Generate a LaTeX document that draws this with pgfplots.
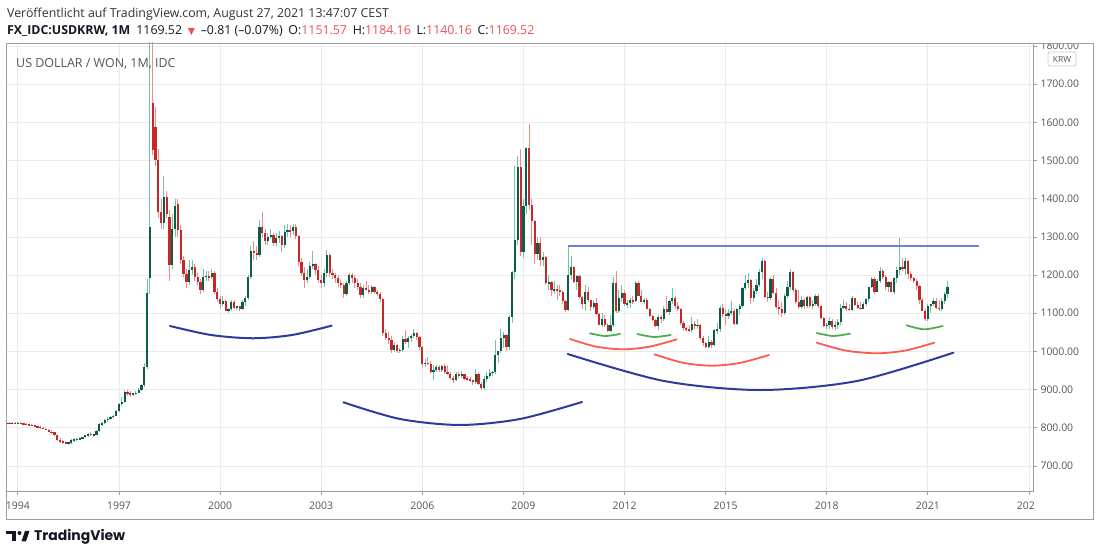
\documentclass[border=0pt]{standalone}
\usepackage{pgfplots}
\pgfplotsset{compat=1.18}
\usepackage{pgfplotstable}
\usepackage{fontspec}
\setmainfont{Open Sans}
\newfontfamily\dejavu{DejaVu Sans}
\newfontfamily\pop{Poppins}
\definecolor{upbody}{HTML}{0E5C47}
\definecolor{upwick}{HTML}{6CC7A9}
\definecolor{dnbody}{HTML}{C62828}
\definecolor{dnwick}{HTML}{F28B8B}
\definecolor{gridc}{HTML}{EBEBEB}
\definecolor{framec}{HTML}{9E9E9E}
\definecolor{labc}{HTML}{555555}
\definecolor{arcblue}{HTML}{2E3A9E}
\definecolor{arcred}{HTML}{FF5A4F}
\definecolor{arcgreen}{HTML}{4CAF50}
\definecolor{resline}{HTML}{7080D0}
\definecolor{valred}{HTML}{F05050}
\definecolor{tvdark}{HTML}{131722}

\pgfplotstableread{
Y M O H L C
1993 9 811 814 809 812
1993 10 812 814 810 811
1993 11 811 814 809 813
1993 12 813 815 810 811
1994 1 811 814 809 812
1994 2 812 814 809 811
1994 3 811 813 808 810
1994 4 810 812 807 809
1994 5 809 811 806 808
1994 6 808 810 804 806
1994 7 806 808 802 804
1994 8 804 806 800 802
1994 9 802 804 798 800
1994 10 800 802 796 798
1994 11 798 800 793 795
1994 12 795 797 788 790
1995 1 790 793 785 788
1995 2 788 790 778 780
1995 3 780 782 766 768
1995 4 768 772 760 764
1995 5 764 768 758 762
1995 6 762 766 757 760
1995 7 760 764 756 761
1995 8 761 770 758 768
1995 9 768 772 764 770
1995 10 770 774 766 771
1995 11 771 774 767 772
1995 12 772 777 770 775
1996 1 775 782 773 780
1996 2 780 786 777 784
1996 3 784 788 779 781
1996 4 781 785 776 782
1996 5 782 795 780 792
1996 6 792 812 790 810
1996 7 810 816 806 812
1996 8 812 822 810 820
1996 9 820 828 816 824
1996 10 824 832 820 829
1996 11 829 834 825 832
1996 12 832 846 830 844
1997 1 844 866 842 862
1997 2 862 880 858 868
1997 3 868 900 864 894
1997 4 894 898 884 890
1997 5 890 896 882 888
1997 6 888 892 884 890
1997 7 890 896 886 892
1997 8 892 904 890 900
1997 9 900 916 896 912
1997 10 912 970 908 960
1997 11 960 1190 955 1152
1997 12 1192 1962 1150 1326
1998 1 1651 1820 1515 1528
1998 2 1588 1640 1485 1501
1998 3 1501 1530 1350 1366
1998 4 1366 1400 1320 1336
1998 5 1336 1460 1320 1405
1998 6 1405 1420 1350 1360
1998 7 1352 1370 1185 1226
1998 8 1226 1360 1215 1320
1998 9 1320 1400 1300 1380
1998 10 1387 1400 1300 1318
1998 11 1318 1330 1230 1239
1998 12 1239 1250 1195 1204
1999 1 1204 1215 1165 1183
1999 2 1183 1240 1175 1213
1999 3 1213 1240 1200 1222
1999 4 1222 1230 1185 1196
1999 5 1196 1205 1175 1183
1999 6 1183 1190 1150 1160
1999 7 1160 1215 1155 1195
1999 8 1195 1210 1185 1198
1999 9 1198 1210 1185 1194
1999 10 1194 1215 1190 1206
1999 11 1206 1210 1150 1157
1999 12 1157 1165 1130 1138
2000 1 1138 1145 1115 1125
2000 2 1125 1145 1120 1131
2000 3 1131 1135 1105 1107
2000 4 1107 1115 1102 1110
2000 5 1110 1135 1105 1130
2000 6 1130 1135 1112 1115
2000 7 1115 1120 1108 1118
2000 8 1118 1120 1105 1112
2000 9 1112 1135 1108 1130
2000 10 1130 1145 1118 1139
2000 11 1139 1200 1135 1195
2000 12 1195 1275 1190 1264
2001 1 1264 1290 1240 1258
2001 2 1258 1275 1240 1252
2001 3 1252 1345 1248 1326
2001 4 1326 1365 1300 1310
2001 5 1310 1320 1280 1290
2001 6 1290 1310 1280 1300
2001 7 1300 1320 1295 1305
2001 8 1305 1310 1275 1283
2001 9 1283 1310 1275 1297
2001 10 1297 1315 1285 1302
2001 11 1302 1305 1260 1278
2001 12 1278 1330 1270 1314
2002 1 1314 1335 1300 1318
2002 2 1318 1330 1300 1315
2002 3 1315 1335 1305 1327
2002 4 1327 1335 1295 1302
2002 5 1302 1305 1225 1233
2002 6 1233 1245 1198 1205
2002 7 1205 1220 1165 1186
2002 8 1186 1215 1180 1195
2002 9 1195 1235 1190 1225
2002 10 1225 1262 1215 1229
2002 11 1229 1232 1200 1213
2002 12 1213 1225 1180 1186
2003 1 1186 1200 1165 1180
2003 2 1180 1215 1170 1205
2003 3 1205 1265 1195 1252
2003 4 1252 1258 1195 1205
2003 5 1205 1215 1190 1200
2003 6 1200 1205 1180 1193
2003 7 1193 1200 1170 1178
2003 8 1178 1190 1165 1174
2003 9 1174 1180 1140 1150
2003 10 1150 1185 1145 1180
2003 11 1180 1205 1175 1200
2003 12 1200 1205 1180 1192
2004 1 1192 1200 1165 1180
2004 2 1180 1190 1160 1170
2004 3 1170 1180 1140 1147
2004 4 1147 1175 1140 1166
2004 5 1166 1185 1160 1162
2004 6 1162 1175 1150 1155
2004 7 1155 1175 1150 1168
2004 8 1168 1172 1150 1155
2004 9 1155 1160 1145 1150
2004 10 1150 1155 1130 1138
2004 11 1138 1140 1040 1048
2004 12 1048 1060 1030 1036
2005 1 1036 1050 1020 1029
2005 2 1029 1040 995 1003
2005 3 1003 1025 998 1016
2005 4 1016 1020 995 1000
2005 5 1000 1010 995 1005
2005 6 1005 1040 998 1032
2005 7 1032 1055 1020 1026
2005 8 1026 1040 1010 1036
2005 9 1036 1045 1025 1040
2005 10 1040 1058 1035 1048
2005 11 1048 1050 1030 1037
2005 12 1037 1040 1005 1012
2006 1 1012 1015 960 967
2006 2 967 980 960 971
2006 3 971 985 965 968
2006 4 968 975 940 946
2006 5 946 965 925 952
2006 6 952 965 945 960
2006 7 960 965 945 951
2006 8 951 965 945 962
2006 9 962 968 942 946
2006 10 946 965 938 942
2006 11 942 945 925 930
2006 12 930 935 918 926
2007 1 926 945 922 941
2007 2 941 945 930 937
2007 3 937 950 930 941
2007 4 941 942 925 929
2007 5 929 935 922 927
2007 6 927 932 920 924
2007 7 924 926 912 920
2007 8 920 955 915 940
2007 9 940 945 912 916
2007 10 916 920 900 903
2007 11 903 935 900 927
2007 12 927 945 920 936
2008 1 936 955 930 944
2008 2 944 950 935 947
2008 3 947 1030 940 990
2008 4 990 1000 970 1000
2008 5 1000 1060 995 1034
2008 6 1034 1050 1010 1043
2008 7 1043 1045 1000 1012
2008 8 1012 1095 1005 1090
2008 9 1090 1210 1075 1207
2008 10 1207 1485 1190 1291
2008 11 1291 1513 1280 1482
2008 12 1482 1530 1250 1260
2009 1 1260 1400 1245 1380
2009 2 1380 1535 1360 1534
2009 3 1534 1597 1370 1383
2009 4 1383 1400 1280 1342
2009 5 1342 1345 1230 1256
2009 6 1256 1300 1240 1284
2009 7 1284 1300 1225 1240
2009 8 1240 1260 1225 1248
2009 9 1248 1250 1175 1178
2009 10 1178 1200 1160 1182
2009 11 1182 1185 1145 1160
2009 12 1160 1185 1150 1164
2010 1 1164 1175 1135 1160
2010 2 1160 1175 1145 1157
2010 3 1157 1160 1125 1131
2010 4 1131 1135 1104 1108
2010 5 1108 1277 1105 1200
2010 6 1200 1250 1190 1222
2010 7 1222 1225 1180 1183
2010 8 1183 1200 1160 1198
2010 9 1198 1200 1138 1142
2010 10 1142 1145 1110 1125
2010 11 1125 1175 1105 1157
2010 12 1157 1170 1130 1134
2011 1 1134 1135 1105 1117
2011 2 1117 1135 1110 1128
2011 3 1128 1140 1095 1097
2011 4 1097 1100 1068 1070
2011 5 1070 1100 1065 1085
2011 6 1085 1095 1065 1069
2011 7 1069 1075 1050 1054
2011 8 1054 1095 1050 1070
2011 9 1070 1195 1065 1178
2011 10 1178 1210 1100 1107
2011 11 1107 1160 1100 1140
2011 12 1140 1175 1130 1153
2012 1 1153 1160 1120 1124
2012 2 1124 1135 1115 1127
2012 3 1127 1140 1115 1134
2012 4 1134 1145 1125 1132
2012 5 1132 1185 1130 1179
2012 6 1179 1185 1145 1146
2012 7 1146 1160 1130 1130
2012 8 1130 1140 1125 1134
2012 9 1134 1140 1110 1112
2012 10 1112 1115 1090 1093
2012 11 1093 1095 1080 1082
2012 12 1082 1085 1065 1067
2013 1 1067 1095 1055 1089
2013 2 1089 1095 1075 1084
2013 3 1084 1120 1080 1111
2013 4 1111 1145 1100 1104
2013 5 1104 1135 1095 1131
2013 6 1131 1165 1125 1141
2013 7 1141 1145 1110 1119
2013 8 1119 1130 1105 1110
2013 9 1110 1115 1070 1075
2013 10 1075 1080 1054 1062
2013 11 1062 1065 1050 1058
2013 12 1058 1070 1050 1055
2014 1 1055 1090 1050 1073
2014 2 1073 1080 1060 1067
2014 3 1067 1085 1060 1070
2014 4 1070 1072 1030 1035
2014 5 1035 1040 1015 1023
2014 6 1023 1025 1010 1012
2014 7 1012 1040 1010 1026
2014 8 1026 1030 1010 1016
2014 9 1016 1060 1013 1055
2014 10 1055 1075 1045 1058
2014 11 1058 1120 1050 1115
2014 12 1115 1125 1090 1099
2015 1 1099 1110 1070 1093
2015 2 1093 1110 1085 1100
2015 3 1100 1132 1095 1107
2015 4 1107 1110 1068 1073
2015 5 1073 1115 1070 1110
2015 6 1110 1125 1095 1118
2015 7 1118 1170 1115 1166
2015 8 1166 1200 1160 1180
2015 9 1180 1205 1165 1186
2015 10 1186 1190 1125 1139
2015 11 1139 1165 1130 1159
2015 12 1159 1190 1150 1175
2016 1 1175 1215 1170 1209
2016 2 1209 1245 1190 1238
2016 3 1238 1240 1140 1143
2016 4 1143 1155 1130 1140
2016 5 1140 1195 1135 1191
2016 6 1191 1200 1150 1152
2016 7 1152 1165 1112 1117
2016 8 1117 1135 1095 1112
2016 9 1112 1130 1090 1100
2016 10 1100 1150 1095 1144
2016 11 1144 1185 1140 1170
2016 12 1170 1215 1160 1207
2017 1 1207 1212 1155 1160
2017 2 1160 1165 1125 1130
2017 3 1130 1160 1110 1116
2017 4 1116 1145 1110 1136
2017 5 1136 1140 1110 1120
2017 6 1120 1145 1115 1142
2017 7 1142 1145 1115 1120
2017 8 1120 1135 1110 1125
2017 9 1125 1150 1120 1146
2017 10 1146 1150 1115 1119
2017 11 1119 1120 1085 1088
2017 12 1088 1090 1065 1067
2018 1 1067 1075 1058 1070
2018 2 1070 1090 1060 1081
2018 3 1081 1085 1060 1064
2018 4 1064 1080 1055 1068
2018 5 1068 1085 1060 1077
2018 6 1077 1125 1070 1114
2018 7 1114 1135 1110 1120
2018 8 1120 1130 1105 1112
2018 9 1112 1125 1105 1109
2018 10 1109 1145 1105 1139
2018 11 1139 1140 1120 1121
2018 12 1121 1130 1110 1115
2019 1 1115 1130 1110 1112
2019 2 1112 1130 1110 1124
2019 3 1124 1140 1120 1137
2019 4 1137 1170 1130 1168
2019 5 1168 1196 1165 1191
2019 6 1191 1195 1150 1156
2019 7 1156 1190 1155 1184
2019 8 1184 1222 1180 1211
2019 9 1211 1215 1190 1196
2019 10 1196 1200 1160 1168
2019 11 1168 1185 1155 1181
2019 12 1181 1185 1155 1156
2020 1 1156 1195 1150 1193
2020 2 1193 1220 1180 1213
2020 3 1213 1296 1200 1220
2020 4 1220 1245 1210 1217
2020 5 1217 1245 1200 1238
2020 6 1238 1240 1190 1203
2020 7 1203 1210 1185 1192
2020 8 1192 1195 1180 1185
2020 9 1185 1190 1160 1171
2020 10 1171 1175 1125 1134
2020 11 1134 1140 1105 1107
2020 12 1107 1110 1080 1086
2021 1 1086 1125 1080 1119
2021 2 1119 1125 1100 1123
2021 3 1123 1140 1120 1133
2021 4 1133 1140 1110 1115
2021 5 1115 1135 1105 1112
2021 6 1112 1140 1105 1131
2021 7 1131 1155 1125 1151
2021 8 1151.57 1184.16 1140.16 1169.52
}\ohlc

\begin{document}
\begin{tikzpicture}[x=1bp,y=1bp]
\useasboundingbox (0,0) rectangle (1100,556);
\fill[white] (0,0) rectangle (1100,556);
\begin{axis}[
  at={(6bp,65bp)}, anchor=south west, scale only axis,
  width=1027bp, height=448bp,
  xmin=1993.647, xmax=2024.121, ymin=634.5, ymax=1807.9,
  axis line style={draw=framec, line width=0.8bp},
  xtick={1994,1997,2000,2003,2006,2009,2012,2015,2018,2021,2024},
  xticklabels={1994,1997,2000,2003,2006,2009,2012,2015,2018,2021,{202\phantom{4}}},
  ytick={700,800,900,1000,1100,1200,1300,1400,1500,1600,1700,1800},
  scaled y ticks=false,
  xtick pos=lower, ytick pos=upper,
  xticklabel pos=lower, yticklabel pos=upper,
  tick align=outside, major tick length=4bp,
  tick style={draw=framec, line width=0.8bp},
  grid=major, grid style={draw=gridc, line width=0.8bp},
  ticklabel style={font=\fontsize{10.5}{12}\selectfont, text=labc},
  yticklabel style={anchor=west, /pgf/number format/fixed, /pgf/number format/fixed zerofill, /pgf/number format/precision=2, /pgf/number format/1000 sep={}, /pgf/number format/assume math mode=true},
  xticklabel style={yshift=-3bp},
  unbounded coords=discard,
]
% wicks
\addplot[draw=none, mark=none, forget plot,
  error bars/.cd, y dir=both, y explicit, error mark=none,
  error bar style={draw=upwick, line width=1bp, solid}]
  table[x expr={\thisrow{Y}+(\thisrow{M}-1)/12},
        y expr={\thisrow{C}>=\thisrow{O} ? (\thisrow{H}+\thisrow{L})/2 : nan},
        y error expr={(\thisrow{H}-\thisrow{L})/2}] {\ohlc};
\addplot[draw=none, mark=none, forget plot,
  error bars/.cd, y dir=both, y explicit, error mark=none,
  error bar style={draw=dnwick, line width=1bp, solid}]
  table[x expr={\thisrow{Y}+(\thisrow{M}-1)/12},
        y expr={\thisrow{C}<\thisrow{O} ? (\thisrow{H}+\thisrow{L})/2 : nan},
        y error expr={(\thisrow{H}-\thisrow{L})/2}] {\ohlc};
% bodies
\addplot[draw=none, mark=none, forget plot,
  error bars/.cd, y dir=both, y explicit, error mark=none,
  error bar style={draw=upbody, line width=2.2bp, solid}]
  table[x expr={\thisrow{Y}+(\thisrow{M}-1)/12},
        y expr={\thisrow{C}>=\thisrow{O} ? (\thisrow{O}+\thisrow{C})/2 : nan},
        y error expr={max(abs(\thisrow{C}-\thisrow{O})/2,1.3)}] {\ohlc};
\addplot[draw=none, mark=none, forget plot,
  error bars/.cd, y dir=both, y explicit, error mark=none,
  error bar style={draw=dnbody, line width=2.2bp, solid}]
  table[x expr={\thisrow{Y}+(\thisrow{M}-1)/12},
        y expr={\thisrow{C}<\thisrow{O} ? (\thisrow{O}+\thisrow{C})/2 : nan},
        y error expr={max(abs(\thisrow{C}-\thisrow{O})/2,1.3)}] {\ohlc};
% resistance line
\addplot[draw=resline, line width=1.8bp, mark=none, solid] coordinates {(2010.333,1277) (2022.52,1277)};
% arcs
\addplot[draw=arcblue, line width=2bp, smooth, mark=none, line cap=round] coordinates {(1998.513,1066.7) (1999.730,1043.1) (2000.976,1034.5) (2002.134,1043.1) (2003.312,1067.5)};
\addplot[draw=arcblue, line width=2bp, smooth, mark=none, line cap=round] coordinates {(2003.656,866.8) (2005.338,823.1) (2007.119,807.4) (2008.899,823.1) (2010.739,867.6)};
\addplot[draw=arcblue, line width=2bp, smooth, mark=none, line cap=round] coordinates {(2010.315,993.3) (2013.172,922.6) (2016.021,899.0) (2018.899,922.6) (2021.757,996.7)};
\addplot[draw=arcred, line width=1.8bp, smooth, mark=none, line cap=round] coordinates {(2010.383,1032.6) (2011.154,1012.7) (2011.956,1005.6) (2012.757,1012.7) (2013.549,1031.8)};
\addplot[draw=arcred, line width=1.8bp, smooth, mark=none, line cap=round] coordinates {(2012.884,992.5) (2013.736,970.3) (2014.588,962.7) (2015.427,970.0) (2016.288,990.7)};
\addplot[draw=arcred, line width=1.8bp, smooth, mark=none, line cap=round] coordinates {(2017.703,1022.9) (2018.572,1002.2) (2019.484,995.2) (2020.323,1002.2) (2021.193,1022.9)};
\addplot[draw=arcgreen, line width=1.8bp, smooth, mark=none, line cap=round] coordinates {(2010.976,1047.5) (2011.421,1040.5) (2011.866,1045.7)};
\addplot[draw=arcgreen, line width=1.8bp, smooth, mark=none, line cap=round] coordinates {(2012.380,1045.7) (2012.875,1037.9) (2013.371,1043.1)};
\addplot[draw=arcgreen, line width=1.8bp, smooth, mark=none, line cap=round] coordinates {(2017.703,1048.3) (2018.187,1040.5) (2018.691,1046.5)};
\addplot[draw=arcgreen, line width=1.8bp, smooth, mark=none, line cap=round] coordinates {(2020.374,1068.5) (2020.887,1058.0) (2021.442,1066.7)};
\end{axis}
% clip the top price label
\fill[white] (1034,513.4) rectangle (1099,532);
% outer frame
\draw[framec, line width=0.8bp] (6,37) rectangle (1093,513);
% KRW badge
\draw[gridc!70!gray, fill=white, rounded corners=2bp, line width=0.7bp] (1048,490) rectangle (1076,504);
\node[text=labc, font=\fontsize{8.5}{10}\selectfont] at (1062,497) {KRW};
% inner label
\node[anchor=west, text=labc, font=\fontsize{12.5}{14}\selectfont, inner sep=0pt] at (16,492) {US DOLLAR / WON, 1M, IDC};
% header
\node[anchor=west, text=black!80, font=\fontsize{12.4}{14}\selectfont, inner sep=0pt] at (7,542) {Veröffentlicht auf TradingView.com, August 27, 2021 13:47:07 CEST};
\node[anchor=west, text=tvdark, font=\fontsize{12.4}{14}\selectfont, inner sep=0pt] at (7,525)
 {{\bfseries FX\_IDC:USDKRW, 1M}\hspace{6bp}1169.52\hspace{2.5bp} {\color{valred}\dejavu\fontsize{9.5}{10}\selectfont ▼}\hspace{2.5bp} –0.81 (–0.07\%)\hspace{2.5bp} O:{\color{valred}1151.57}\hspace{2.5bp} H:{\color{valred}1184.16}\hspace{2.5bp} L:{\color{valred}1140.16}\hspace{2.5bp} C:{\color{valred}1169.52}};
% TradingView logo
\fill[tvdark] (6,25) rectangle (16,21.5);
\fill[tvdark] (11.5,25) rectangle (16,14.5);
\fill[tvdark] (19.5,23) circle (2);
\fill[tvdark] (21.5,14.5) -- (25,25) -- (29.5,25) -- (26,14.5) -- cycle;
\node[anchor=west, text=tvdark, font=\pop\bfseries\fontsize{14}{16}\selectfont, inner sep=0pt] at (34,19) {TradingView};
\end{tikzpicture}
\end{document}
